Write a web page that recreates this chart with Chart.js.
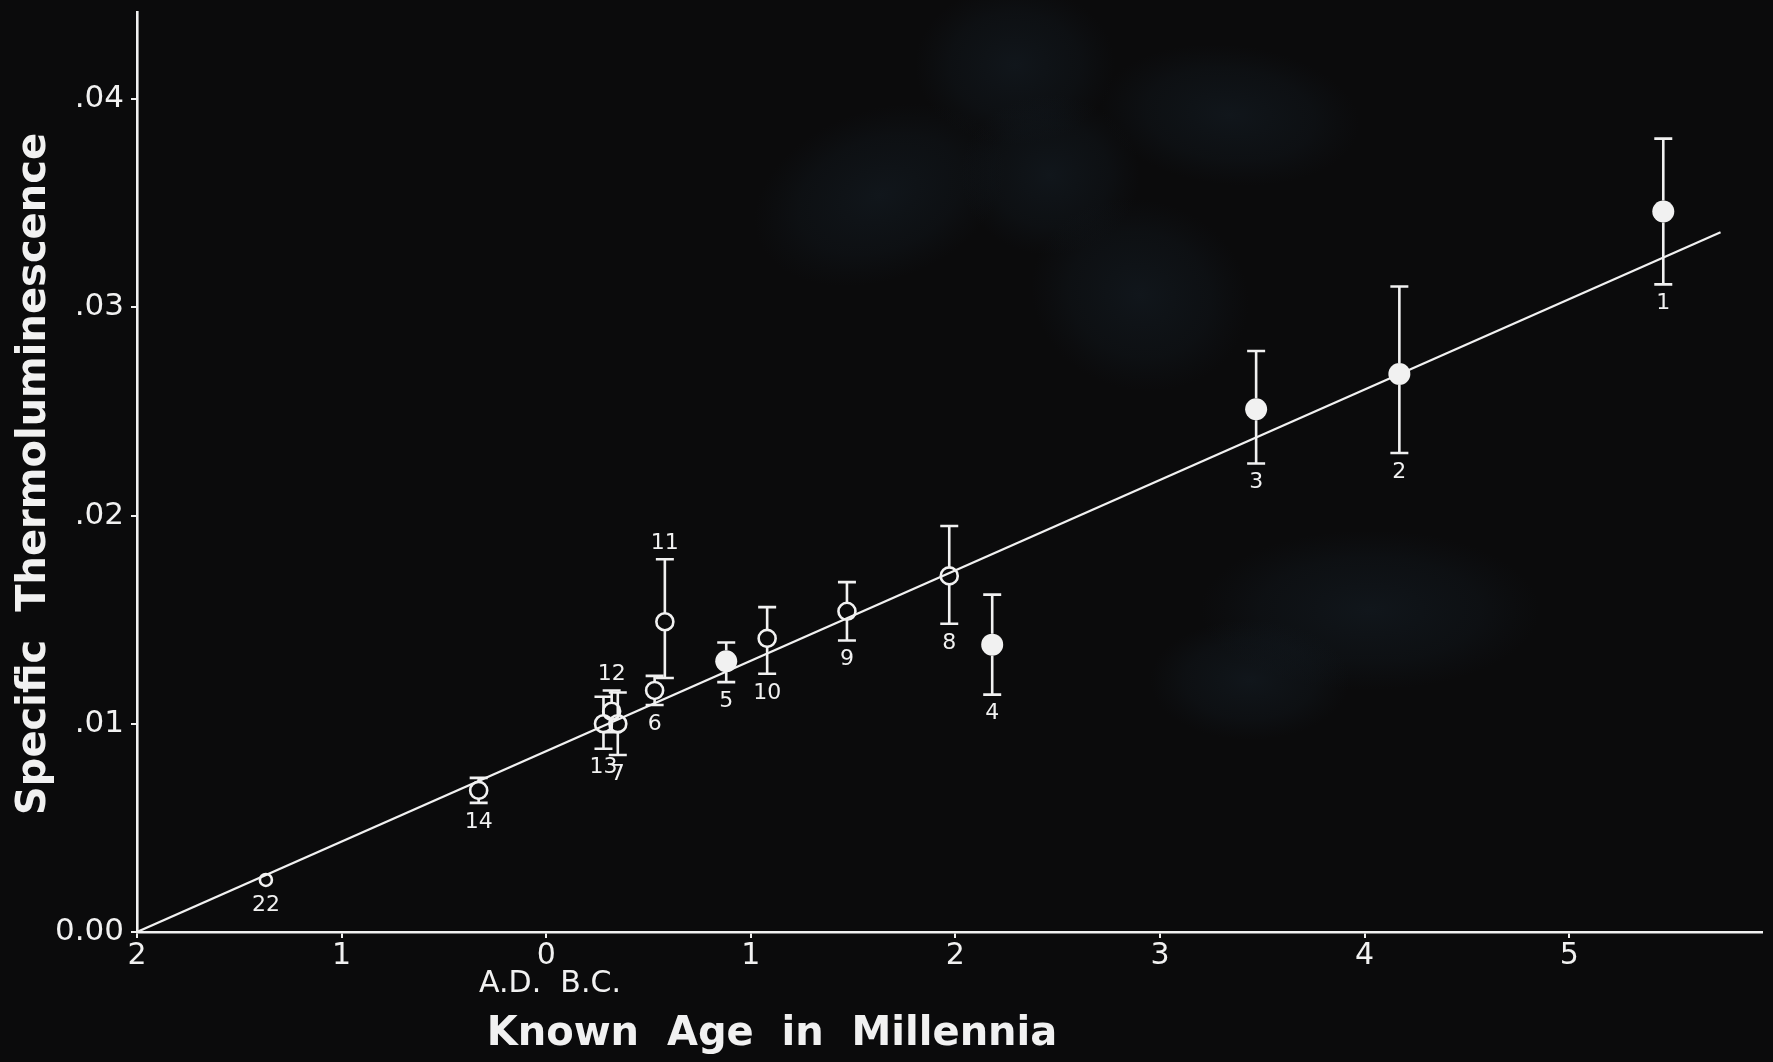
<!DOCTYPE html>
<html>
<head>
<meta charset="utf-8">
<script src="https://cdn.jsdelivr.net/npm/chart.js@4.4.1/dist/chart.umd.min.js"></script>
<style>
  html, body { margin: 0; padding: 0; background: #0b0b0b; overflow: hidden; }
  canvas { display: block; }
</style>
</head>
<body>
<canvas id="tl" width="1773" height="1062"></canvas>
<script>
// Sample numbers, known age in millennia (negative = A.D.), specific thermoluminescence
const sampleNo   = ['1', '2', '3', '4', '5', '6', '7', '8', '9', '10', '11', '12', '13', '14', '22'];
const knownAge   = [5.46, 4.17, 3.47, 2.18, 0.88, 0.53, 0.35, 1.97, 1.47, 1.08, 0.58, 0.32, 0.28, -0.33, -1.37];
const specificTL = [0.0346, 0.0268, 0.0251, 0.0138, 0.0130, 0.0116, 0.0100, 0.0171, 0.0154, 0.0141, 0.0149, 0.0106, 0.0100, 0.0068, 0.0025];
const tlUpper    = [0.0381, 0.0310, 0.0279, 0.0162, 0.0139, 0.0123, 0.0115, 0.0195, 0.0168, 0.0156, 0.0179, 0.0116, 0.0113, 0.0074, null];
const tlLower    = [0.0311, 0.0230, 0.0225, 0.0114, 0.0120, 0.0109, 0.0085, 0.0148, 0.0140, 0.0124, 0.0122, 0.0096, 0.0088, 0.0062, null];
const solidSamples = ['1', '2', '3', '4', '5'];

// Calibration line
const fitAge = [-2, 5.74];
const fitTL  = [0, 0.0336];

// Axis ticks
const xTickValues = [-2, -1, 0, 1, 2, 3, 4, 5];
const xTickLabels = ['2', '1', '0', '1', '2', '3', '4', '5'];
const yTickValues = [0, 0.01, 0.02, 0.03, 0.04];
const yTickLabels = ['0.00', '.01', '.02', '.03', '.04'];

const INK = '#f1f1f1';
const labelFont = '"DejaVu Sans", sans-serif';

function markerRadius(id) {
  if (solidSamples.includes(id)) return 11;
  return id === '22' ? 6 : 8.5;
}

const points = sampleNo.map((id, i) => ({ x: knownAge[i], y: specificTL[i], id }));

// Dark backdrop with faint blue-grey smudges
const backdrop = {
  id: 'backdrop',
  beforeDraw(chart) {
    const ctx = chart.ctx;
    ctx.save();
    ctx.fillStyle = '#0b0b0c';
    ctx.fillRect(0, 0, chart.width, chart.height);
    const blobs = [
      [880, 195, 130, 85, -0.35], [1015, 65, 100, 80, 0], [1050, 175, 90, 80, 0],
      [1140, 295, 110, 95, 0.3], [1230, 115, 130, 70, 0.1],
      [1370, 610, 170, 80, 0], [1250, 680, 100, 60, 0]
    ];
    for (const [cx, cy, rx, ry, rot] of blobs) {
      ctx.save();
      ctx.translate(cx, cy);
      ctx.rotate(rot);
      ctx.scale(rx / 100, ry / 100);
      const g = ctx.createRadialGradient(0, 0, 0, 0, 0, 100);
      g.addColorStop(0, 'rgba(26,40,52,0.38)');
      g.addColorStop(0.65, 'rgba(22,34,44,0.22)');
      g.addColorStop(1, 'rgba(20,30,40,0)');
      ctx.fillStyle = g;
      ctx.beginPath();
      ctx.arc(0, 0, 100, 0, Math.PI * 2);
      ctx.fill();
      ctx.restore();
    }
    ctx.restore();
  }
};

// Vertical error bars with caps, broken around the markers
const errorBars = {
  id: 'errorBars',
  beforeDatasetsDraw(chart) {
    const { ctx, scales: { x, y } } = chart;
    ctx.save();
    ctx.strokeStyle = INK;
    ctx.lineWidth = 2.6;
    ctx.lineCap = 'butt';
    sampleNo.forEach((id, i) => {
      if (tlUpper[i] == null) return;
      const px = x.getPixelForValue(knownAge[i]);
      const pc = y.getPixelForValue(specificTL[i]);
      const pt = y.getPixelForValue(tlUpper[i]);
      const pb = y.getPixelForValue(tlLower[i]);
      const r = markerRadius(id);
      ctx.beginPath();
      ctx.moveTo(px, pt); ctx.lineTo(px, pc - r);
      ctx.moveTo(px, pc + r); ctx.lineTo(px, pb);
      ctx.moveTo(px - 9, pt); ctx.lineTo(px + 9, pt);
      ctx.moveTo(px - 9, pb); ctx.lineTo(px + 9, pb);
      ctx.stroke();
    });
    ctx.restore();
  }
};

// Sample numbers beside each marker
const sampleLabels = {
  id: 'sampleLabels',
  afterDatasetsDraw(chart) {
    const { ctx, scales: { x, y } } = chart;
    ctx.save();
    ctx.fillStyle = INK;
    ctx.font = '22px ' + labelFont;
    ctx.textAlign = 'center';
    ctx.textBaseline = 'middle';
    sampleNo.forEach((id, i) => {
      const px = x.getPixelForValue(knownAge[i]);
      const pc = y.getPixelForValue(specificTL[i]);
      let py;
      if (id === '11' || id === '12') {
        py = y.getPixelForValue(tlUpper[i]) - 16;
      } else if (tlLower[i] != null) {
        py = y.getPixelForValue(tlLower[i]) + 19;
      } else {
        py = pc + markerRadius(id) + 19;
      }
      ctx.fillText(id, px, py);
    });
    ctx.restore();
  }
};

// Axis titles and era note
const axisTitles = {
  id: 'axisTitles',
  afterDraw(chart) {
    const { ctx } = chart;
    ctx.save();
    ctx.fillStyle = INK;
    ctx.textAlign = 'center';
    ctx.textBaseline = 'middle';
    ctx.font = 'bold 40px ' + labelFont;
    ctx.save();
    ctx.translate(35, 474);
    ctx.rotate(-Math.PI / 2);
    ctx.fillText('Specific  Thermoluminescence', 0, 0);
    ctx.restore();
    ctx.fillText('Known  Age  in  Millennia', 772, 1035);
    ctx.font = '30px ' + labelFont;
    ctx.fillText('A.D.  B.C.', 550, 984);
    ctx.restore();
  }
};

new Chart(document.getElementById('tl'), {
  type: 'scatter',
  data: {
    datasets: [
      {
        label: 'solid',
        data: points.filter(p => solidSamples.includes(p.id)),
        pointRadius: 11,
        pointHoverRadius: 11,
        backgroundColor: INK,
        borderColor: INK,
        borderWidth: 0,
        order: 0
      },
      {
        label: 'open',
        data: points.filter(p => !solidSamples.includes(p.id)),
        pointRadius: ctx => markerRadius(ctx.raw ? ctx.raw.id : ''),
        backgroundColor: 'rgba(0,0,0,0)',
        borderColor: INK,
        borderWidth: 2.6,
        order: 1
      },
      {
        label: 'fit',
        type: 'line',
        data: fitAge.map((a, i) => ({ x: a, y: fitTL[i] })),
        borderColor: INK,
        borderWidth: 2.2,
        pointRadius: 0,
        fill: false,
        order: 10
      }
    ]
  },
  options: {
    responsive: false,
    animation: false,
    devicePixelRatio: 1,
    layout: { padding: { top: 12, left: 0, right: 0, bottom: 0 } },
    plugins: { legend: { display: false }, tooltip: { enabled: false } },
    scales: {
      x: {
        type: 'linear',
        min: -2,
        max: 5.942,
        afterBuildTicks: s => { s.ticks = xTickValues.map(v => ({ value: v })); },
        afterFit: s => { s.height = 130; s.paddingLeft = 0; s.paddingRight = 0; },
        ticks: {
          callback: v => xTickLabels[xTickValues.indexOf(v)],
          color: INK,
          font: { family: labelFont, size: 30 },
          padding: 0,
          maxRotation: 0,
          autoSkip: false
        },
        grid: { drawOnChartArea: false, drawTicks: true, tickLength: 6, color: INK, lineWidth: 2 },
        border: { display: true, color: INK, width: 2.6 }
      },
      y: {
        type: 'linear',
        min: 0,
        max: 0.04418,
        afterBuildTicks: s => { s.ticks = yTickValues.map(v => ({ value: v })); },
        afterFit: s => { s.width = 137; s.paddingTop = 0; s.paddingBottom = 0; },
        ticks: {
          callback: v => yTickLabels[yTickValues.indexOf(v)],
          color: INK,
          font: { family: labelFont, size: 31 },
          padding: 7,
          autoSkip: false
        },
        grid: { drawOnChartArea: false, drawTicks: true, tickLength: 6, color: INK, lineWidth: 2 },
        border: { display: true, color: INK, width: 2.6 }
      }
    }
  },
  plugins: [backdrop, errorBars, sampleLabels, axisTitles]
});
</script>
</body>
</html>
